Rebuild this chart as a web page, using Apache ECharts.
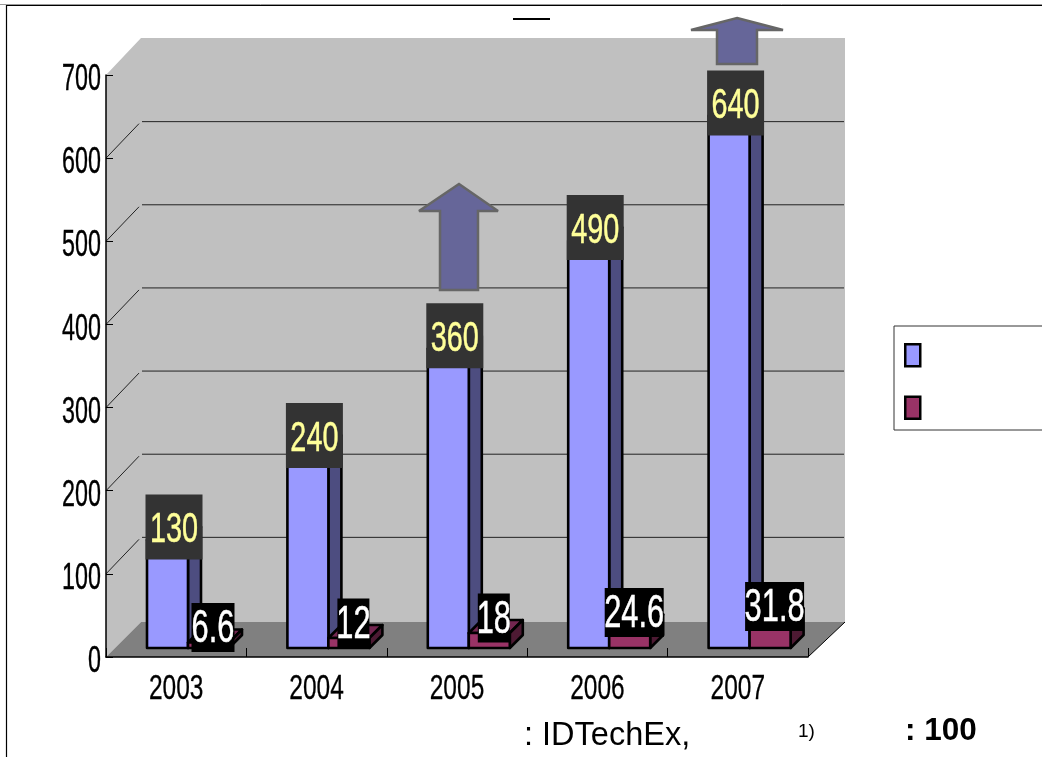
<!DOCTYPE html>
<html>
<head>
<meta charset="utf-8">
<style>html,body{margin:0;padding:0;background:#fff;overflow:hidden}#c{width:1042px;height:757px}</style>
<script src="https://cdn.jsdelivr.net/npm/echarts@6/dist/echarts.min.js"></script>
</head>
<body>
<div id="c"></div>
<script>
const categories = ['2003', '2004', '2005', '2006', '2007'];
const blueValues = [130, 240, 360, 490, 640];
const redValues = [6.6, 12, 18, 24.6, 31.8];
const yTicks = [0, 100, 200, 300, 400, 500, 600, 700];
const seriesNames = ['A', 'B'];

const BAR_D = 13, LIFT = 9, BAR_W = 41, BAR_OFF = 41;
const FONT = '"Liberation Sans", Arial, sans-serif';

function wallItem(params, api) {
  if (params.dataIndex !== 0) return null;
  const cs = params.coordSys;
  const L = cs.x, R = cs.x + cs.width, T = cs.y, B = cs.y + cs.height;
  const LD = 35, RD = 37, TD = 37, FD = 35, GD = 36.5;
  const kids = [
    {type:'polygon', shape:{points:[[L,B],[L+LD,B-FD],[R+RD,B-FD],[R+RD,T-TD],[L+LD,T-TD],[L,T]]}, style:{fill:'#C0C0C0'}},
    {type:'polygon', shape:{points:[[L,B],[R,B],[R+RD,B-FD],[L+LD,B-FD]]}, style:{fill:'#808080'}},
    {type:'line', shape:{x1:R,y1:B,x2:R+RD,y2:B-FD}, style:{stroke:'#000',lineWidth:1}}
  ];
  yTicks.forEach(function (t) {
    const y = api.coord([0, t])[1];
    kids.push({type:'text', x:L-5, y:y+5, scaleX:0.63, style:{text:String(t), fontFamily:FONT, fontSize:37, fill:'#000', stroke:'#000', lineWidth:0.4, align:'right', verticalAlign:'middle'}});
    if (t === 0 || t === 700) return;
    kids.push({type:'line', shape:{x1:L,y1:y,x2:L+LD-2,y2:y-GD+2}, style:{stroke:'#222',lineWidth:1}});
    kids.push({type:'line', shape:{x1:L+LD+1,y1:y-GD,x2:R+RD-1,y2:y-GD}, style:{stroke:'#222',lineWidth:1}});
  });
  categories.forEach(function (c, i) {
    kids.push({type:'text', x:api.coord([i, 0])[0], y:B+32, scaleX:0.7, style:{text:c, fontFamily:FONT, fontSize:35, fill:'#000', stroke:'#000', lineWidth:0.3, align:'center', verticalAlign:'middle'}});
  });
  return {type:'group', children:kids};
}

function barItem(cfg) {
  return function (params, api) {
    const i = api.value(0), v = api.value(1);
    const band = api.size([1, 0])[0];
    const cx = api.coord([i, 0])[0];
    const left = cx - band / 2 + BAR_OFF + cfg.slot * BAR_W;
    const right = left + BAR_W;
    const base = api.coord([i, 0])[1] - LIFT;
    const top = api.coord([i, v])[1] - LIFT;
    const line = {stroke:'#000', lineWidth:2.6, lineJoin:'round'};
    const txt = String(v);
    const boxCx = (left + right + BAR_D) / 2 + cfg.dx;
    const boxCy = top - BAR_D + cfg.dy;
    const boxW = cfg.boxW(txt);
    return {type:'group', children:[
      {type:'polygon', shape:{points:[[left,top],[left+BAR_D,top-BAR_D],[right+BAR_D,top-BAR_D],[right,top]]}, style:Object.assign({fill:cfg.topFill},line)},
      {type:'polygon', shape:{points:[[right,base],[right+BAR_D,base-BAR_D],[right+BAR_D,top-BAR_D],[right,top]]}, style:Object.assign({fill:cfg.sideFill},line)},
      {type:'rect', shape:{x:left,y:top,width:BAR_W,height:base-top}, style:Object.assign({fill:cfg.frontFill},line)},
      {type:'rect', shape:{x:boxCx-boxW/2,y:boxCy-cfg.boxH/2,width:boxW,height:cfg.boxH}, style:{fill:cfg.boxFill}},
      {type:'text', x:boxCx, y:boxCy+cfg.ty, scaleX:cfg.scale, style:{text:txt, fontFamily:FONT, fontSize:cfg.font, fill:cfg.textFill, stroke:cfg.textFill, lineWidth:0.5, align:'center', verticalAlign:'middle'}}
    ]};
  };
}

const blueCfg = {slot:0, frontFill:'#9999FF', sideFill:'#4D4D80', topFill:'#7373BF', boxFill:'#333333', textFill:'#FFFF99', boxH:65, boxW:function(){return 57;}, font:43, scale:0.67, dx:0, dy:0, ty:3.5};
const redCfg = {slot:1, frontFill:'#993366', sideFill:'#4D1A33', topFill:'#732650', boxFill:'#000000', textFill:'#FFFFFF', boxH:49, boxW:function(t){return t.length===2?32:(t.length===3?43:59);}, font:46, scale:0.67, dx:-2, dy:-2, ty:2};

const chart = echarts.init(document.getElementById('c'), null, {renderer:'canvas', width:1042, height:757});
chart.setOption({
  animation:false,
  backgroundColor:'#fff',
  grid:{left:106, right:234, top:75, bottom:100, containLabel:false},
  legend:{
    left:894, top:326, orient:'vertical', padding:[17,135,10,10], itemGap:28, itemWidth:15, itemHeight:22,
    backgroundColor:'#fff', borderColor:'#333', borderWidth:1, selectedMode:false,
    formatter:function(){return '';},
    data:[
      {name:seriesNames[0], icon:'rect', itemStyle:{color:'#9999FF', borderColor:'#000', borderWidth:2.5}},
      {name:seriesNames[1], icon:'rect', itemStyle:{color:'#993366', borderColor:'#000', borderWidth:2.5}}
    ]
  },
  xAxis:{type:'category', data:categories, z:5, boundaryGap:true,
    axisLine:{lineStyle:{color:'#000',width:1.5}},
    axisTick:{show:true, inside:true, length:9, alignWithLabel:false, lineStyle:{color:'#000',width:1}},
    axisLabel:{show:false}
  },
  yAxis:{type:'value', min:yTicks[0], max:yTicks[yTicks.length-1], interval:100, z:5,
    splitLine:{show:false},
    axisLine:{show:true, lineStyle:{color:'#000',width:1.5}},
    axisTick:{show:true, inside:true, length:7, lineStyle:{color:'#000',width:1}},
    axisLabel:{show:false}
  },
  series:[
    {type:'custom', silent:true, z:1, clip:false, data:[[0]], renderItem:wallItem, encode:{x:0}},
    {type:'custom', name:seriesNames[0], z:2, clip:false, itemStyle:{color:'#9999FF'}, renderItem:barItem(blueCfg), encode:{x:0,y:1},
      data:blueValues.map(function(v,i){return [i,v];})},
    {type:'custom', name:seriesNames[1], z:3, clip:false, itemStyle:{color:'#993366'}, renderItem:barItem(redCfg), encode:{x:0,y:1},
      data:redValues.map(function(v,i){return [i,v];})}
  ],
  graphic:[
    {type:'line', z:10, shape:{x1:0,y1:4.5,x2:1042,y2:4.5}, style:{stroke:'#999',lineWidth:1}},
    {type:'line', z:10, shape:{x1:6,y1:5.5,x2:1042,y2:5.5}, style:{stroke:'#000',lineWidth:1}},
    {type:'line', z:10, shape:{x1:6.5,y1:5,x2:6.5,y2:757}, style:{stroke:'#000',lineWidth:1.2}},
    {type:'line', z:10, shape:{x1:513,y1:19,x2:550,y2:19}, style:{stroke:'#000',lineWidth:2}},
    {type:'polygon', z:10, shape:{points:[[459,184],[498,211],[478,211],[478,290],[440,290],[440,211],[419,211]]}, style:{fill:'#666699',stroke:'#666',lineWidth:2.5,miterLimit:3}},
    {type:'polygon', z:10, shape:{points:[[737,18],[783,30],[757,30],[757,64],[717,64],[717,30],[691,30]]}, style:{fill:'#666699',stroke:'#666',lineWidth:2.5,miterLimit:2}},
    {type:'text', z:10, x:524, y:736, style:{text:': IDTechEx,', fontFamily:FONT, fontSize:32.5, fill:'#000', verticalAlign:'middle'}},
    {type:'text', z:10, x:798, y:732, style:{text:'1)', fontFamily:FONT, fontSize:19, fill:'#000', verticalAlign:'middle'}},
    {type:'text', z:10, x:905, y:731, style:{text:': 100', fontFamily:FONT, fontSize:31.5, fontWeight:'bold', fill:'#000', verticalAlign:'middle'}}
  ]
});
</script>
</body>
</html>
